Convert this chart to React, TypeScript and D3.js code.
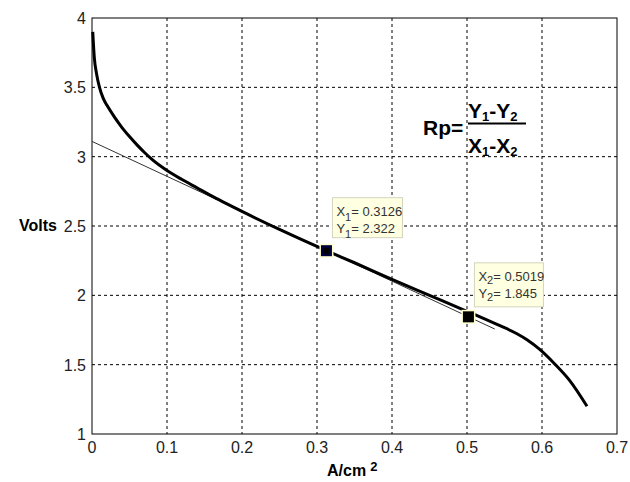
import React from "react";
import * as d3 from "d3";

const curveX = [0.001, 0.003, 0.006, 0.01, 0.015, 0.02, 0.03, 0.04, 0.05, 0.06, 0.07, 0.08, 0.1, 0.12, 0.14, 0.16, 0.18, 0.2, 0.25, 0.3126, 0.35, 0.4, 0.45, 0.5, 0.54, 0.566, 0.58, 0.597, 0.617, 0.637, 0.66];
const curveV = [3.9, 3.72, 3.6, 3.5, 3.42, 3.37, 3.285, 3.21, 3.145, 3.085, 3.03, 2.98, 2.9, 2.835, 2.775, 2.715, 2.66, 2.605, 2.475, 2.322, 2.235, 2.115, 2.0, 1.885, 1.79, 1.725, 1.68, 1.61, 1.505, 1.385, 1.2];
const tangentX = [0, 0.537];
const tangentV = [3.11, 1.757];
const xTicks = [0, 0.1, 0.2, 0.3, 0.4, 0.5, 0.6, 0.7];
const yTicks = [1, 1.5, 2, 2.5, 3, 3.5, 4];
const tipX = [0.3126, 0.5019];
const tipY = [2.322, 1.845];
const tipXLabel = ["0.3126", "0.5019"];
const tipYLabel = ["2.322", "1.845"];

const L = 92, R = 617, T = 18, B = 434;
const FONT = "Arial, 'Liberation Sans', sans-serif";

export default function App() {
  const x = d3.scaleLinear().domain([0, 0.7]).range([L, R]);
  const y = d3.scaleLinear().domain([1, 4]).range([B, T]);
  const line = d3
    .line<number>()
    .x((_, i) => x(curveX[i]))
    .y((d) => y(d))
    .curve(d3.curveMonotoneX);
  const tline = d3
    .line<number>()
    .x((_, i) => x(tangentX[i]))
    .y((d) => y(d));

  const tipBoxes = [
    { dx: 6, dy: -53, w: 70, h: 40, sub: 5 },
    { dx: 6, dy: -54, w: 69, h: 44, sub: 3 },
  ];

  return (
    <svg
      width={630}
      height={482}
      style={{ position: "absolute", left: 0, top: 0, background: "#fff" }}
      fontFamily={FONT}
    >
      <rect x={0} y={0} width={630} height={482} fill="#fff" />
      {xTicks.slice(1, -1).map((t) => (
        <line key={"gx" + t} x1={x(t)} x2={x(t)} y1={T} y2={B} stroke="#000" strokeWidth={1} strokeDasharray="3,3" />
      ))}
      {yTicks.slice(1, -1).map((t) => (
        <line key={"gy" + t} x1={L} x2={R} y1={y(t)} y2={y(t)} stroke="#000" strokeWidth={1} strokeDasharray="3,3" />
      ))}
      <rect x={L} y={T} width={R - L} height={B - T} fill="none" stroke="#000" strokeWidth={1} />
      {xTicks.map((t) => (
        <text key={"xl" + t} x={x(t)} y={B + 19} fontSize={16} textAnchor="middle" fill="#222">
          {String(t)}
        </text>
      ))}
      {yTicks.map((t) => (
        <text key={"yl" + t} x={L - 6} y={y(t) + 6} fontSize={16} textAnchor="end" fill="#222">
          {String(t)}
        </text>
      ))}
      <text x={57} y={y(2.5) + 5} fontSize={16} fontWeight="bold" textAnchor="end" fill="#000">Volts</text>
      <text x={327} y={476} fontSize={16} fontWeight="bold" fill="#000">
        A/cm
        <tspan dx={4} dy={-5} fontSize={13}>2</tspan>
      </text>
      <path d={tline(tangentV) || ""} fill="none" stroke="#333" strokeWidth={1} />
      <path d={line(curveV) || ""} fill="none" stroke="#000" strokeWidth={3} strokeLinejoin="round" />
      <text x={423} y={135} fontSize={21} fontWeight="bold" fill="#000">Rp=</text>
      <line x1={468} x2={526} y1={123.5} y2={123.5} stroke="#000" strokeWidth={2} />
      <text x={468} y={118} fontSize={21} fontWeight="bold" fill="#000">
        Y<tspan fontSize={13} dy={3}>1</tspan><tspan dy={-3}>-Y</tspan><tspan fontSize={13} dy={3}>2</tspan>
      </text>
      <text x={468} y={153} fontSize={21} fontWeight="bold" fill="#000">
        X<tspan fontSize={13} dy={3}>1</tspan><tspan dy={-3}>-X</tspan><tspan fontSize={13} dy={3}>2</tspan>
      </text>
      {tipX.map((tx, i) => {
        const px = x(tx), py = y(tipY[i]);
        const b = tipBoxes[i];
        const bx = px + b.dx, by = py + b.dy;
        const idx = String(i + 1);
        return (
          <g key={"tip" + i}>
            <rect x={bx} y={by} width={b.w} height={b.h} fill="#ffffe1" stroke="#d4d4bc" strokeWidth={1} />
            <text x={bx + 4} y={by + 18} fontSize={13} fill="#333">
              X<tspan fontSize={11} dy={b.sub}>{idx}</tspan><tspan dy={-b.sub}>{"= " + tipXLabel[i]}</tspan>
            </text>
            <text x={bx + 4} y={by + 35} fontSize={13} fill="#333">
              Y<tspan fontSize={11} dy={b.sub}>{idx}</tspan><tspan dy={-b.sub}>{"= " + tipYLabel[i]}</tspan>
            </text>
            <rect x={px - 7} y={py - 7} width={14} height={14} fill="#ffffcc" />
            <rect x={px - 5.5} y={py - 5.5} width={11} height={11} fill={i === 0 ? "#000040" : "#000"} />
            {i === 0 && <circle cx={px} cy={py} r={3.5} fill="#000" />}
          </g>
        );
      })}
    </svg>
  );
}
